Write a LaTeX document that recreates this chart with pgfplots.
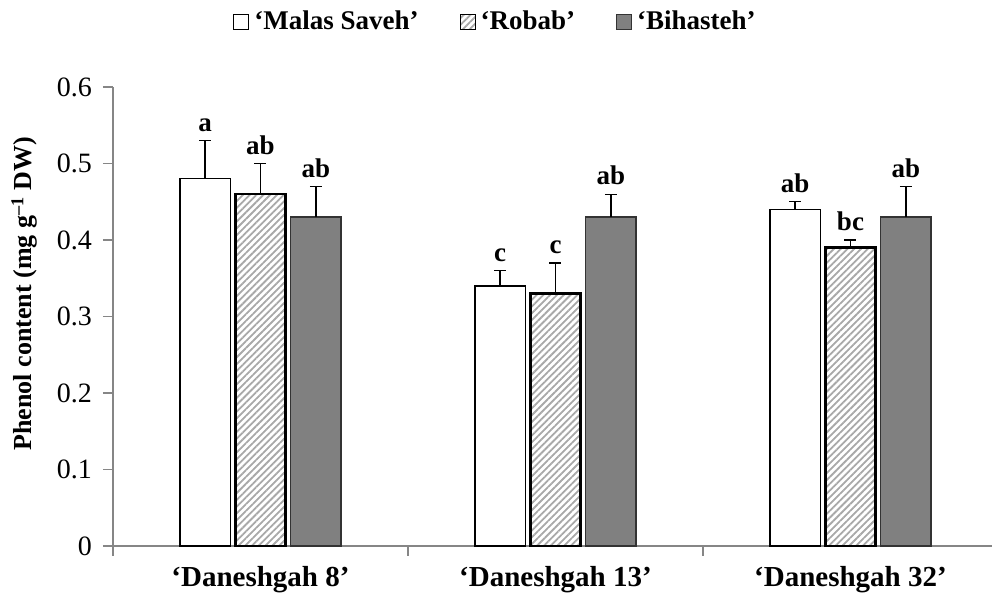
\documentclass[border=0pt]{standalone}
\usepackage{pgfplots}
\pgfplotsset{compat=1.18}
\usepackage{pgfplotstable}
\usetikzlibrary{patterns.meta}
\usepackage{fontspec}
\setmainfont{Liberation Serif}
\definecolor{axgray}{RGB}{134,134,134}
\definecolor{barGray}{RGB}{128,128,128}
\definecolor{hatchgray}{RGB}{168,168,168}

\pgfplotstableread{
x y e l
0 0.48 0.05 a
1 0.34 0.02 c
2 0.44 0.01 ab
}\malas
\pgfplotstableread{
x y e l
0 0.46 0.04 ab
1 0.33 0.04 c
2 0.39 0.01 bc
}\robab
\pgfplotstableread{
x y e l
0 0.43 0.04 ab
1 0.43 0.03 ab
2 0.43 0.04 ab
}\bihasteh

\pgfplotsset{
  errplot/.style={forget plot, draw=none, mark=none,
    error bars/.cd, y dir=plus, y explicit,
    error bar style={black, line width=0.6pt},
    error mark options={rotate=90, mark size=3pt, black, line width=0.6pt}},
  letterplot/.style={forget plot, draw=none, mark=none, nodes near coords, point meta=explicit symbolic,
    nodes near coords style={font=\bfseries\fontsize{13.5}{16}\selectfont, anchor=south, yshift=1pt}},
}

\begin{document}
\begin{tikzpicture}
\path[use as bounding box] (-56.5pt,-24pt) rectangle (439.5pt,273pt);
\begin{axis}[
  at={(0,0)}, anchor=south west,
  scale only axis, width=442.5pt, height=229.5pt,
  xmin=-0.5, xmax=2.5, ymin=0, ymax=0.6,
  axis x line*=bottom, axis y line*=left,
  axis line style={draw=axgray, line width=0.7pt, -},
  tick style={draw=axgray, line width=0.7pt},
  tick align=outside, major tick length=5pt,
  ytick={0,0.1,0.2,0.3,0.4,0.5,0.6},
  yticklabels={0,0.1,0.2,0.3,0.4,0.5,0.6},
  yticklabel style={font=\fontsize{14}{16}\selectfont, xshift=-2pt},
  xtick={-0.5,0.5,1.5,2.5}, xticklabels={},
  extra x ticks={0,1,2},
  extra x tick labels={‘Daneshgah 8’,‘Daneshgah 13’,‘Daneshgah 32’},
  extra x tick style={major tick length=0pt, tick style={draw=none},
    xticklabel style={font=\bfseries\fontsize{14.5}{17}\selectfont, yshift=-6.5pt}},
  ylabel={\bfseries Phenol content (mg g\textsuperscript{–1} DW)},
  ylabel style={font=\fontsize{13}{15}\selectfont, at={(axis description cs:-0.1,0.55)}, anchor=center},
  legend style={at={(0.434,1.1416)}, anchor=center, draw=none, fill=none,
    legend columns=3, font=\bfseries\fontsize{13.5}{16}\selectfont,
    /tikz/every even column/.append style={column sep=18pt},
    nodes={inner sep=2.5pt}},
  legend image code/.code={\draw[#1, line width=0.5pt] (0pt,-3.5pt) rectangle (7.5pt,4pt);},
  clip=false,
]
\addplot[ybar, bar width=0.17, bar shift=-0.188, draw=black, fill=white, line width=0.6pt]
  table[x=x, y=y]{\malas};
\addplot[ybar, bar width=0.17, bar shift=0, draw=black, line width=1.2pt,
  pattern={Lines[angle=45, distance=2.4pt, line width=0.9pt]}, pattern color=hatchgray]
  table[x=x, y=y]{\robab};
\addplot[ybar, bar width=0.17, bar shift=0.188, draw=black!80, fill=barGray, line width=0.6pt]
  table[x=x, y=y]{\bihasteh};
\legend{‘Malas Saveh’,‘Robab’,‘Bihasteh’}
\addplot[errplot] table[x expr=\thisrow{x}-0.188, y=y, y error=e]{\malas};
\addplot[errplot] table[x expr=\thisrow{x}, y=y, y error=e]{\robab};
\addplot[errplot] table[x expr=\thisrow{x}+0.188, y=y, y error=e]{\bihasteh};
\addplot[letterplot] table[x expr=\thisrow{x}-0.188, y expr=\thisrow{y}+\thisrow{e}, meta=l]{\malas};
\addplot[letterplot] table[x expr=\thisrow{x}, y expr=\thisrow{y}+\thisrow{e}, meta=l]{\robab};
\addplot[letterplot] table[x expr=\thisrow{x}+0.188, y expr=\thisrow{y}+\thisrow{e}, meta=l]{\bihasteh};
\end{axis}
\end{tikzpicture}
\end{document}
